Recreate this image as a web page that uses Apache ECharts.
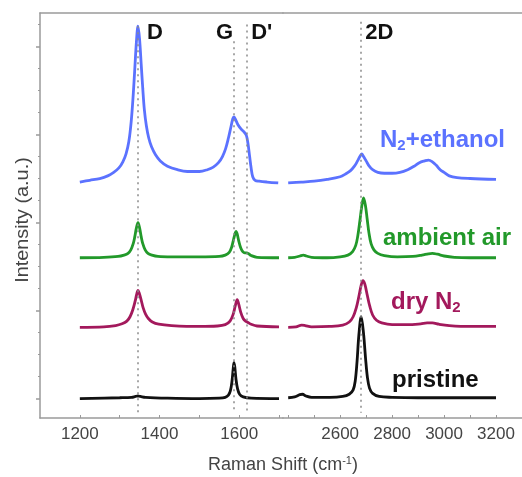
<!DOCTYPE html>
<html><head><meta charset="utf-8">
<script src="https://cdn.jsdelivr.net/npm/echarts@6/dist/echarts.min.js"></script>
<style>html,body{margin:0;padding:0;background:#fff}#c{width:522px;height:477px}</style>
</head><body><div id="c"></div>
<script>
// Raman shift (cm-1), intensity (a.u., stacked offsets as drawn)
const ethanolLeft = [[1200,2.46],[1225,2.48],[1250,2.50],[1270,2.53],[1285,2.57],[1298,2.62],[1308,2.69],[1316,2.78],[1323,2.92],[1329,3.15],[1334,3.45],[1338,3.75],[1342,4.05],[1346,4.23],[1350,4.08],[1354,3.80],[1358,3.52],[1362,3.28],[1367,3.10],[1373,2.96],[1380,2.86],[1390,2.77],[1402,2.70],[1420,2.64],[1445,2.60],[1470,2.58],[1500,2.58],[1520,2.60],[1535,2.63],[1548,2.68],[1558,2.75],[1566,2.84],[1573,2.96],[1579,3.08],[1584,3.18],[1587,3.20],[1591,3.17],[1597,3.11],[1605,3.06],[1612,3.03],[1618,2.99],[1622,2.90],[1626,2.76],[1630,2.62],[1634,2.52],[1640,2.48],[1650,2.47],[1670,2.46],[1698,2.45]];
const ethanolRight = [[2400,2.45],[2450,2.46],[2500,2.47],[2550,2.49],[2600,2.52],[2620,2.55],[2640,2.59],[2655,2.64],[2667,2.70],[2676,2.75],[2683,2.78],[2690,2.75],[2700,2.70],[2712,2.64],[2725,2.60],[2745,2.57],[2770,2.56],[2800,2.56],[2830,2.57],[2860,2.60],[2885,2.64],[2905,2.68],[2925,2.70],[2940,2.71],[2955,2.69],[2970,2.65],[2985,2.60],[3000,2.57],[3020,2.53],[3050,2.51],[3100,2.50],[3200,2.49]];
const ambientLeft = [[1200,1.60],[1260,1.605],[1296,1.615],[1311,1.63],[1321,1.65],[1328,1.69],[1334,1.76],[1338,1.84],[1342,1.94],[1346,2.00],[1350,1.94],[1354,1.84],[1358,1.76],[1364,1.69],[1371,1.65],[1381,1.63],[1396,1.615],[1430,1.61],[1500,1.61],[1550,1.615],[1565,1.63],[1575,1.66],[1581,1.72],[1586,1.81],[1590,1.88],[1592,1.90],[1595,1.87],[1599,1.79],[1604,1.71],[1609,1.67],[1614,1.655],[1619,1.655],[1624,1.645],[1630,1.625],[1645,1.605],[1700,1.60]];
const ambientRight = [[2400,1.60],[2425,1.605],[2445,1.62],[2458,1.63],[2470,1.62],[2490,1.605],[2550,1.60],[2600,1.61],[2630,1.63],[2648,1.67],[2660,1.74],[2668,1.85],[2676,2.02],[2683,2.18],[2690,2.28],[2697,2.20],[2704,2.04],[2711,1.88],[2719,1.76],[2730,1.69],[2745,1.65],[2770,1.625],[2820,1.61],[2880,1.615],[2915,1.63],[2940,1.645],[2955,1.65],[2975,1.64],[3000,1.62],[3040,1.605],[3100,1.60],[3200,1.60]];
const dryLeft = [[1200,0.81],[1260,0.815],[1290,0.83],[1306,0.85],[1318,0.88],[1326,0.93],[1333,1.01],[1339,1.11],[1343,1.19],[1346,1.23],[1349,1.20],[1354,1.12],[1359,1.03],[1365,0.96],[1372,0.91],[1382,0.87],[1398,0.845],[1430,0.83],[1500,0.82],[1545,0.825],[1565,0.84],[1577,0.88],[1585,0.96],[1590,1.05],[1595,1.125],[1599,1.07],[1604,0.98],[1610,0.91],[1616,0.88],[1622,0.865],[1630,0.845],[1645,0.825],[1700,0.815]];
const dryRight = [[2400,0.81],[2430,0.815],[2452,0.835],[2465,0.83],[2490,0.815],[2560,0.82],[2610,0.835],[2635,0.87],[2650,0.93],[2662,1.03],[2672,1.16],[2681,1.29],[2688,1.34],[2695,1.30],[2704,1.18],[2714,1.05],[2725,0.95],[2740,0.89],[2760,0.86],[2800,0.84],[2860,0.84],[2910,0.85],[2935,0.86],[2955,0.86],[2980,0.845],[3020,0.83],[3100,0.82],[3200,0.82]];
const pristineLeft = [[1200,0.0],[1300,0.01],[1330,0.015],[1340,0.025],[1346,0.03],[1352,0.025],[1365,0.015],[1420,0.005],[1500,0.0],[1550,0.005],[1565,0.015],[1573,0.04],[1578,0.09],[1582,0.20],[1585,0.34],[1587,0.41],[1589,0.36],[1592,0.22],[1596,0.11],[1601,0.05],[1610,0.02],[1630,0.005],[1700,0.0]];
const pristineRight = [[2400,0.01],[2425,0.02],[2445,0.045],[2455,0.05],[2468,0.03],[2490,0.015],[2560,0.015],[2610,0.025],[2635,0.05],[2650,0.10],[2658,0.20],[2665,0.42],[2672,0.72],[2681,0.93],[2690,0.74],[2698,0.45],[2705,0.24],[2713,0.12],[2725,0.06],[2750,0.025],[2800,0.015],[2900,0.01],[3200,0.01]];

const seriesNames = ['N2+ethanol','ambient air','dry N2','pristine'];
const seriesColors = ['#5b72ff','#22992a','#a3195c','#111111'];

const xLeftTicks = [1200,1300,1400,1500,1600,1700];
const xLeftLabels = [1200,1400,1600];
const xRightTicks = [2400,2500,2600,2700,2800,2900,3000,3100,3200];
const xRightLabels = [2600,2800,3000,3200];
const yMajorTicks = [0,1,2,3,4];
const yMinorTicks = [0.25,0.5,0.75,1.25,1.5,1.75,2.25,2.5,2.75,3.25,3.5,3.75,4.25];

const peakNames = ['D','G',"D'",'2D'];
const peakShifts = [1346,1587,1620,2681];
const peakLineTops = [4.23,4.06,4.25,4.28];
const peakLineBottom = -0.16;

const X0 = [1100,1710], X1 = [2380,3300], Y = [-0.22,4.38];
const axisGray = '#9a9a9a';
const FONT = 'Liberation Sans, Arial, sans-serif';

const chart = echarts.init(document.getElementById('c'));

function xAx(grid, range, ticks, labels){
  return {type:'value', gridIndex:grid, min:range[0], max:range[1], position:'bottom',
    axisLine:{show:true, onZero:false, lineStyle:{color:axisGray, width:1.5}},
    axisTick:{show:true, inside:true, length:3, customValues:ticks, lineStyle:{color:axisGray}},
    axisLabel:{show:true, customValues:labels, margin:8, fontFamily:FONT, fontSize:17, color:'#444',
      formatter: v => String(v)},
    splitLine:{show:false}};
}
function xTop(grid, range){
  return {type:'value', gridIndex:grid, min:range[0], max:range[1], position:'top',
    axisLine:{show:true, onZero:false, lineStyle:{color:axisGray, width:1.5}},
    axisTick:{show:false}, axisLabel:{show:false}, splitLine:{show:false}};
}
function peakLines(idxs){
  return {silent:true, symbol:['none','none'], label:{show:false},
    lineStyle:{type:[2,4], color:'#8a8a8a', width:1.5},
    data: idxs.map(i => [{coord:[peakShifts[i], peakLineTops[i]]},{coord:[peakShifts[i], peakLineBottom]}])};
}
const lefts = [ethanolLeft, ambientLeft, dryLeft, pristineLeft];
const rights = [ethanolRight, ambientRight, dryRight, pristineRight];
const series = [];
lefts.forEach((d,i)=>{
  series.push({type:'line', name:seriesNames[i], xAxisIndex:0, yAxisIndex:0, data:d, showSymbol:false, symbol:'none',
    smooth:0.35, lineStyle:{color:seriesColors[i], width:2.8}, z:3,
    markLine: i===3 ? peakLines([0,1,2]) : undefined});
});
rights.forEach((d,i)=>{
  series.push({type:'line', name:seriesNames[i], xAxisIndex:1, yAxisIndex:1, data:d, showSymbol:false, symbol:'none',
    smooth:0.35, lineStyle:{color:seriesColors[i], width:2.8}, z:3,
    markLine: i===3 ? peakLines([3]) : undefined});
});

chart.setOption({
  animation:false,
  backgroundColor:'#fff',
  grid:[{left:40, top:13, width:243, height:405},{left:283, top:13, width:239, height:405}],
  xAxis:[xAx(0,X0,xLeftTicks,xLeftLabels), xAx(1,X1,xRightTicks,xRightLabels), xTop(0,X0), xTop(1,X1)],
  yAxis:[
    {type:'value', gridIndex:0, min:Y[0], max:Y[1], position:'left',
      axisLine:{show:true, lineStyle:{color:axisGray, width:1.5}},
      axisTick:{show:true, length:4, customValues:yMajorTicks, lineStyle:{color:axisGray, width:1.5}},
      axisLabel:{show:false}, splitLine:{show:false}},
    {type:'value', gridIndex:1, min:Y[0], max:Y[1], show:false, splitLine:{show:false}},
    {type:'value', gridIndex:0, min:Y[0], max:Y[1], position:'left',
      axisLine:{show:false},
      axisTick:{show:true, length:2, customValues:yMinorTicks, lineStyle:{color:axisGray}},
      axisLabel:{show:false}, splitLine:{show:false}}
  ],
  series: series
});

function px(axisIdx, v){ return chart.convertToPixel({xAxisIndex:axisIdx}, v); }
const peakFont = 'bold 22px ' + FONT;
const g = [];
const peakAxis = [0,0,0,1];
const peakOffsets = [9,-1,4,4];
const peakAlign = ['left','right','left','left'];
peakNames.forEach((n,i)=>{
  g.push({type:'text', x:px(peakAxis[i], peakShifts[i]) + peakOffsets[i], y:33,
    style:{text:n, font:peakFont, fill:'#111', textAlign:peakAlign[i], textVerticalAlign:'middle'}});
});
const labelPos = [[380,140],[383,238],[391,302],[392,380]];
const labelTexts = ['N{sub|2}+ethanol','ambient air','dry N{sub|2}','pristine'];
labelTexts.forEach((t,i)=>{
  g.push({type:'text', x:labelPos[i][0], y:labelPos[i][1],
    style:{text:t, font:'bold 24px ' + FONT, fill:seriesColors[i], textVerticalAlign:'middle',
      rich:{sub:{font:'bold 15px ' + FONT, fill:seriesColors[i], verticalAlign:'bottom', padding:[11,0,0,0]}}}});
});
g.push({type:'text', x:283, y:465,
  style:{text:'Raman Shift (cm{sup|-1})', font:'18px ' + FONT, fill:'#444', textAlign:'center', textVerticalAlign:'middle',
    rich:{sup:{font:'11px ' + FONT, fill:'#444', padding:[0,0,9,0]}}}});
g.push({type:'text', x:23, y:220, rotation:Math.PI/2, scaleX:1.1,
  style:{text:'Intensity (a.u.)', font:'18px ' + FONT, fill:'#444', textAlign:'center', textVerticalAlign:'middle'}});
chart.setOption({graphic:g});
</script>
</body></html>
